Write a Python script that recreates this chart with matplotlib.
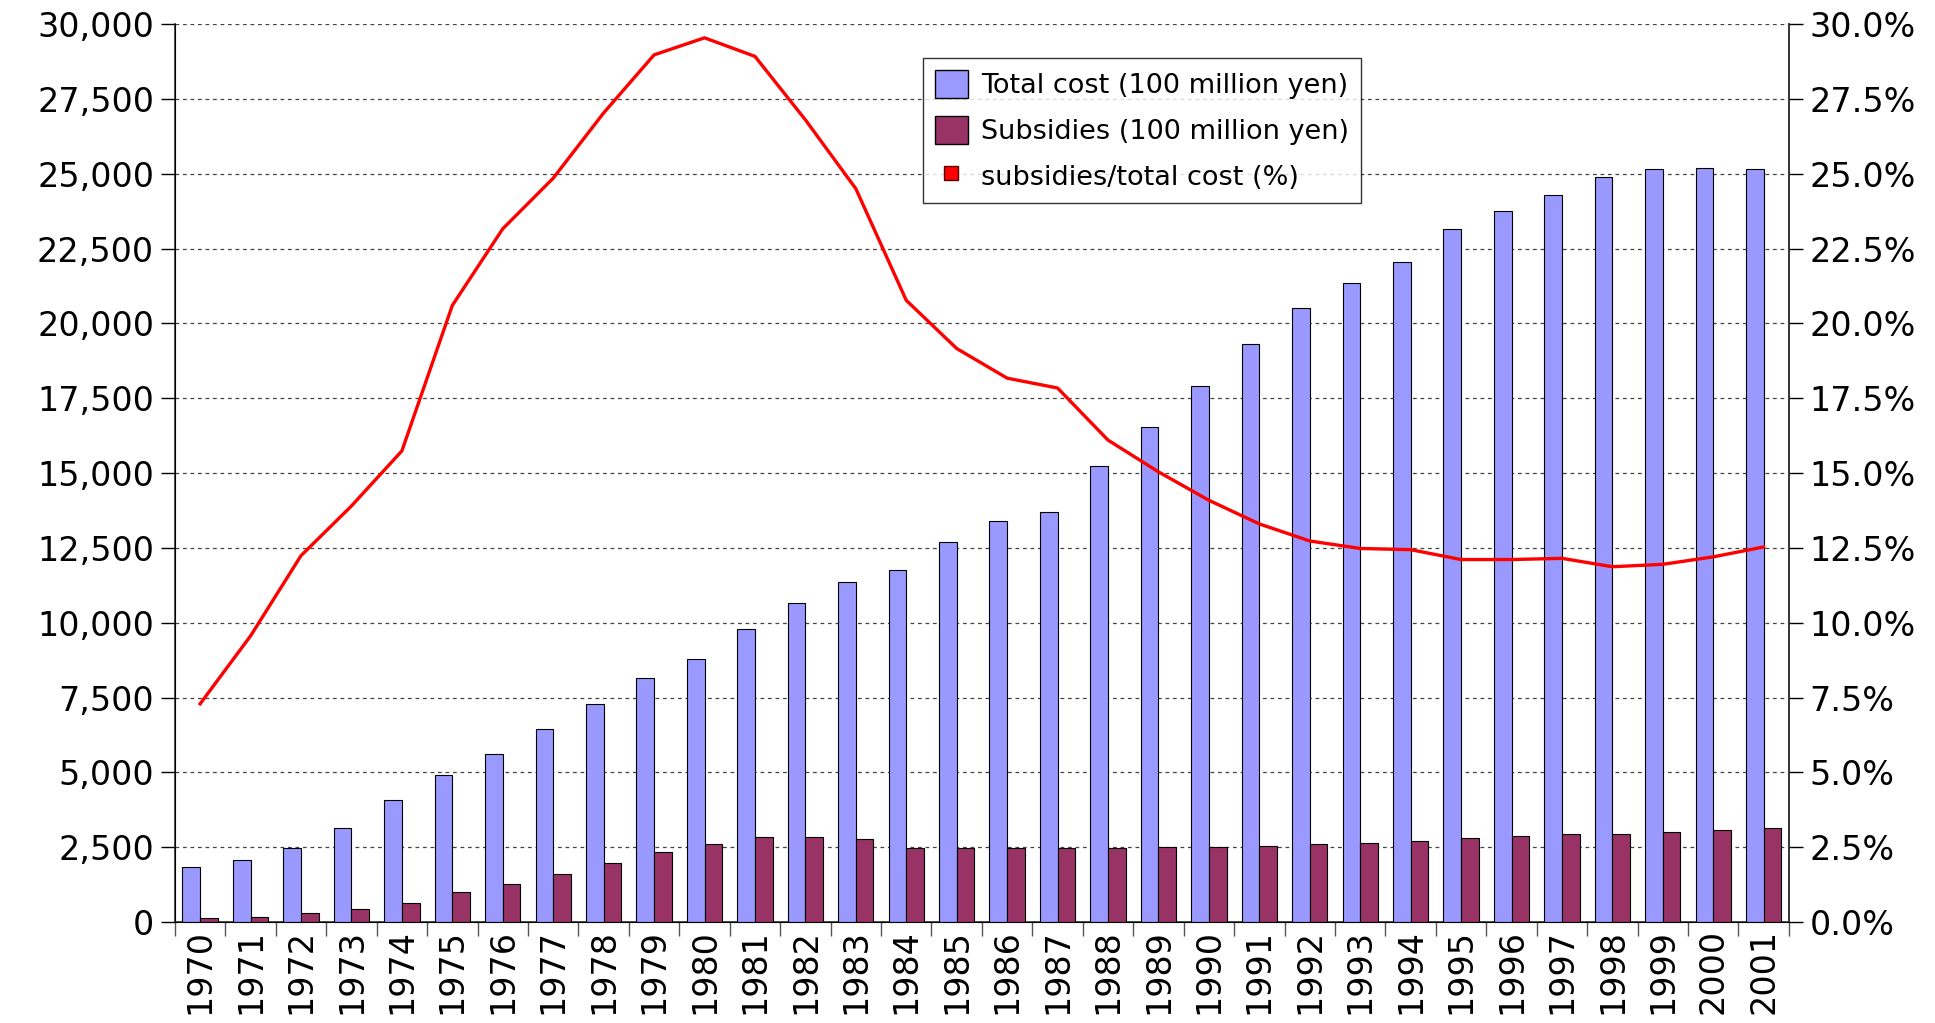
import matplotlib.pyplot as plt
import numpy as np
from matplotlib.ticker import FuncFormatter, FixedLocator
from matplotlib.patches import Patch
from matplotlib.lines import Line2D

# data
years = list(range(1970, 2002))
total_cost = [1850, 2080, 2480, 3130, 4070, 4900, 5600, 6450, 7300, 8150,
              8800, 9800, 10650, 11350, 11750, 12700, 13400, 13700, 15250, 16550,
              17900, 19300, 20500, 21350, 22050, 23150, 23750, 24300, 24900, 25150,
              25200, 25150]
subsidies = [130, 170, 290, 425, 625, 990, 1270, 1590, 1960, 2330,
             2610, 2840, 2840, 2760, 2470, 2470, 2470, 2470, 2470, 2500,
             2500, 2540, 2600, 2640, 2720, 2810, 2880, 2940, 2940, 3010,
             3070, 3140]
ratio = [7.29, 9.56, 12.24, 13.9, 15.74, 20.6, 23.16, 24.85, 27.03, 28.97,
         29.54, 28.92, 26.8, 24.5, 20.77, 19.16, 18.17, 17.84, 16.1, 15.04,
         14.09, 13.3, 12.73, 12.48, 12.44, 12.11, 12.11, 12.15, 11.87, 11.95,
         12.2, 12.53]

blue = '#9999FF'
purple = '#993366'
red = '#FF0000'
fs = 24

fig = plt.figure(figsize=(19.35, 10.23), dpi=100)
ax = fig.add_axes([0.0904, 0.0987, 0.8341, 0.8778])
x = np.arange(len(years))
w = 0.35

ax.bar(x - w/2, total_cost, w, color=blue, edgecolor='black', linewidth=0.8, zorder=3)
ax.bar(x + w/2, subsidies, w, color=purple, edgecolor='black', linewidth=0.8, zorder=3)

ax.set_xlim(-0.5, len(years) - 0.5)
ax.set_ylim(0, 30000)
ax.yaxis.set_major_locator(FixedLocator(np.arange(0, 30001, 2500)))
ax.yaxis.set_major_formatter(FuncFormatter(lambda v, p: f'{int(v):,}'))
ax.grid(axis='y', color='#444444', linestyle=(0, (3, 3)), linewidth=0.9, zorder=0)
ax.set_axisbelow(True)

# ticks between groups, labels at centres
ax.set_xticks(np.arange(-0.5, len(years), 1))
ax.set_xticklabels([])
ax.set_xticks(x, minor=True)
ax.set_xticklabels([str(y) for y in years], minor=True, rotation=90, fontsize=fs)
ax.tick_params(axis='x', which='minor', length=0, pad=5)
ax.tick_params(axis='x', which='major', length=10, width=1, color='#555555')
ax.tick_params(axis='y', labelsize=fs, length=10, width=1, pad=5)
ax.spines['top'].set_visible(False)
for s in ['left', 'right', 'bottom']:
    ax.spines[s].set_linewidth(1.2)
    ax.spines[s].set_color('#333333')

ax2 = ax.twinx()
ax2.plot(x, ratio, color=red, linewidth=2.4, zorder=4)
ax2.set_ylim(0, 30)
ax2.yaxis.set_major_locator(FixedLocator(np.arange(0, 30.01, 2.5)))
ax2.yaxis.set_major_formatter(FuncFormatter(lambda v, p: f'{v:.1f}%'))
ax2.tick_params(axis='y', labelsize=fs, length=10, width=1, pad=5)
ax2.spines['top'].set_visible(False)
ax2.spines['right'].set_color('#333333')
ax2.spines['right'].set_linewidth(1.2)

handles = [Patch(facecolor=blue, edgecolor='black', label='Total cost (100 million yen)'),
           Patch(facecolor=purple, edgecolor='black', label='Subsidies (100 million yen)'),
           Line2D([], [], linestyle='none', marker='s', markersize=10, markerfacecolor=red,
                  markeredgecolor='#550000', label='subsidies/total cost (%)')]
leg = ax2.legend(handles=handles, loc='upper left', bbox_to_anchor=(0.4635, 0.962),
                 borderaxespad=0, fontsize=19.5, frameon=True, fancybox=False,
                 edgecolor='black', handlelength=1.2, handleheight=1.2,
                 handletextpad=0.5, borderpad=0.45, labelspacing=0.62)
leg.get_frame().set_linewidth(1.0)

fig.savefig('out.png', dpi=100)
